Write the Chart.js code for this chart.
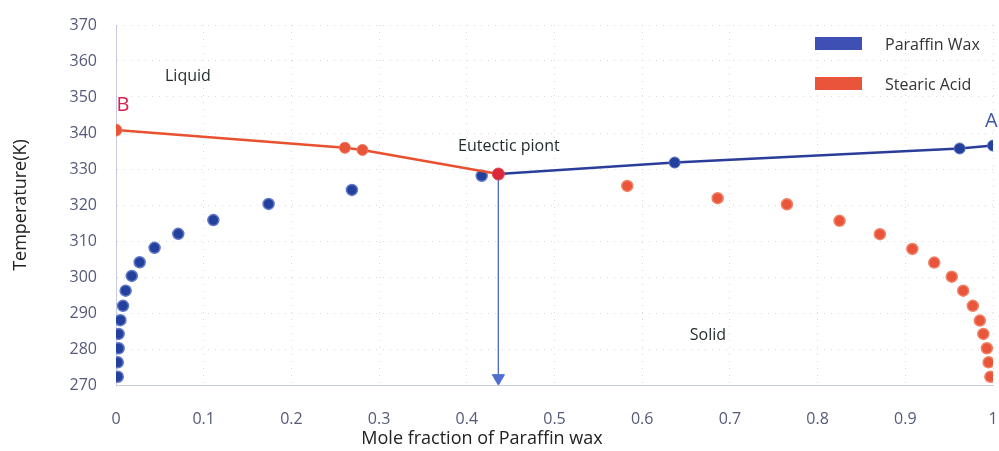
<!DOCTYPE html>
<html>
<head>
<meta charset="utf-8">
<script src="https://cdn.jsdelivr.net/npm/chart.js@4.4.0/dist/chart.umd.min.js"></script>
<style>
  html, body { margin: 0; background: #fff; }
  #wrap { width: 999px; height: 451px; }
</style>
</head>
<body>
<div id="wrap"><canvas id="phase-chart"></canvas></div>
<script>
// axis ticks
const xTickLabels = ['0', '0.1', '0.2', '0.3', '0.4', '0.5', '0.6', '0.7', '0.8', '0.9', '1'];
const yTickLabels = ['270', '280', '290', '300', '310', '320', '330', '340', '350', '360', '370'];

// paraffin wax solid points (blue, left)
const paraffinSolidX = [0.002, 0.002, 0.003, 0.003, 0.005, 0.008, 0.011, 0.018, 0.027, 0.044, 0.071, 0.111, 0.174, 0.269, 0.417];
const paraffinSolidT = [272.3, 276.3, 280.2, 284.2, 288.0, 292.0, 296.2, 300.3, 304.1, 308.1, 312.0, 315.8, 320.3, 324.2, 328.1];

// stearic acid solid points (red, right)
const stearicSolidX = [0.583, 0.686, 0.765, 0.825, 0.871, 0.908, 0.933, 0.953, 0.966, 0.977, 0.985, 0.989, 0.993, 0.995, 0.997];
const stearicSolidT = [325.3, 321.9, 320.2, 315.6, 311.9, 307.8, 304.0, 300.1, 296.2, 292.0, 287.9, 284.2, 280.2, 276.3, 272.3];

// liquidus lines
const stearicLineX = [0, 0.261, 0.281, 0.436];
const stearicLineT = [340.8, 335.9, 335.3, 328.6];
const paraffinLineX = [0.436, 0.637, 0.962, 1.0];
const paraffinLineT = [328.6, 331.8, 335.7, 336.5];

// eutectic point and its drop arrow
const eutecticX = [0.436];
const eutecticT = [328.6];
const arrowT = [328.6, 271.9];

// texts placed in data units
const noteTexts = ['Liquid', 'Solid', 'Eutectic piont', 'B', 'A'];
const noteX = [0.082, 0.675, 0.448, 0.008, 0.998];
const noteT = [355.6, 283.9, 336.4, 347.6, 343.2];

const legendLabels = ['Paraffin Wax', 'Stearic Acid'];
const legendColors = ['#3f50b5', '#e8553b'];

const BLUE = '#23409c';
const RED = '#e8553b';

const toPts = (xs, ys) => xs.map((x, i) => ({ x: x, y: ys[i] }));

const textPlugin = {
  id: 'phaseTexts',
  afterDraw(chart) {
    const ctx = chart.ctx;
    const xs = chart.scales.x, ys = chart.scales.y;
    ctx.save();
    ctx.textBaseline = 'middle';
    noteTexts.forEach((t, i) => {
      let px = xs.getPixelForValue(noteX[i]);
      let py = ys.getPixelForValue(noteT[i]);
      if (t === 'B') { ctx.font = '20px "Open Sans"'; ctx.fillStyle = '#d8234a'; }
      else if (t === 'A') { ctx.font = '20px "Open Sans"'; ctx.fillStyle = '#3b58a8'; }
      else { ctx.font = '16px "Open Sans"'; ctx.fillStyle = '#1e2a2a'; }
      ctx.textAlign = 'center';
      ctx.fillText(t, px, py);
    });

    // legend, top right
    ctx.textAlign = 'left';
    ctx.font = '16px "Open Sans"';
    legendLabels.forEach((l, i) => {
      let top = 37 + i * 40;
      ctx.fillStyle = legendColors[i];
      ctx.fillRect(815, top, 47, 13);
      ctx.fillStyle = '#333';
      ctx.fillText(l, 885, top + 8);
    });

    // axis titles
    ctx.fillStyle = '#222';
    ctx.font = '18px "Open Sans"';
    ctx.textAlign = 'center';
    ctx.fillText('Mole fraction of Paraffin wax', 482, 439);
    ctx.translate(21, 205);
    ctx.rotate(-Math.PI / 2);
    ctx.fillText('Temperature(K)', 0, 0);
    ctx.restore();
  }
};

new Chart(document.getElementById('phase-chart'), {
  type: 'scatter',
  data: {
    datasets: [
      {
        label: 'Eutectic',
        data: toPts(eutecticX, eutecticT),
        backgroundColor: '#d8283c',
        borderColor: '#e04050',
        borderWidth: 1,
        pointRadius: 6,
        order: 0
      },
      {
        label: 'Stearic liquidus',
        data: toPts(stearicLineX, stearicLineT),
        showLine: true,
        borderColor: '#e8502f',
        borderWidth: 2.5,
        backgroundColor: RED,
        pointBorderColor: '#ef7a5c',
        pointBorderWidth: 1,
        pointRadius: [6, 5.5, 5.5, 0],
        order: 1
      },
      {
        label: 'Paraffin liquidus',
        data: toPts(paraffinLineX, paraffinLineT),
        showLine: true,
        borderColor: '#2a3d9a',
        borderWidth: 2.5,
        backgroundColor: BLUE,
        pointBorderColor: '#5a74c4',
        pointBorderWidth: 1,
        pointRadius: [0, 5.5, 5.5, 5.5],
        order: 2
      },
      {
        label: 'Paraffin Wax',
        data: toPts(paraffinSolidX, paraffinSolidT),
        backgroundColor: BLUE,
        borderColor: '#5f78c8',
        borderWidth: 1.5,
        pointRadius: 5.5,
        order: 3
      },
      {
        label: 'Stearic Acid',
        data: toPts(stearicSolidX, stearicSolidT),
        backgroundColor: RED,
        borderColor: '#f08266',
        borderWidth: 1.5,
        pointRadius: 5.5,
        order: 4
      },
      {
        label: 'Arrow',
        data: toPts([eutecticX[0], eutecticX[0]], arrowT),
        showLine: true,
        borderColor: '#4f6fd0',
        borderWidth: 1,
        backgroundColor: '#4f6fd0',
        pointStyle: 'triangle',
        rotation: 180,
        pointRadius: [0, 7],
        order: 5
      }
    ]
  },
  options: {
    responsive: true,
    maintainAspectRatio: false,
    animation: false,
    layout: { padding: { top: 25, right: 6, left: 0, bottom: 0 }, autoPadding: false },
    plugins: {
      legend: { display: false },
      tooltip: { enabled: false }
    },
    scales: {
      x: {
        type: 'linear',
        min: 0,
        max: 1,
        afterFit: (scale) => {
          scale.height = 66;
          scale.paddingLeft = 0;
          scale.paddingRight = 0;
        },
        afterBuildTicks: (scale) => {
          scale.ticks = xTickLabels.map((l) => ({ value: parseFloat(l) }));
        },
        grid: {
          color: 'rgba(180, 186, 210, 0.55)',
          drawTicks: false
        },
        border: { color: '#c8cce0', dash: [1, 6] },
        ticks: {
          padding: 25,
          color: '#55597a',
          font: { size: 16, family: 'Open Sans' },
          callback: (v, i) => xTickLabels[i]
        }
      },
      y: {
        min: 270,
        max: 370,
        afterFit: (scale) => {
          scale.width = 116;
          scale.paddingTop = 0;
          scale.paddingBottom = 0;
        },
        afterBuildTicks: (scale) => {
          scale.ticks = yTickLabels.map((l) => ({ value: parseFloat(l) }));
        },
        grid: {
          color: 'rgba(180, 186, 210, 0.55)',
          drawTicks: false
        },
        border: { color: '#c8cce0', dash: [1, 6] },
        ticks: {
          padding: 19,
          color: '#55597a',
          font: { size: 16, family: 'Open Sans' },
          callback: (v, i) => yTickLabels[i]
        }
      }
    }
  },
  plugins: [textPlugin]
});
</script>
</body>
</html>
